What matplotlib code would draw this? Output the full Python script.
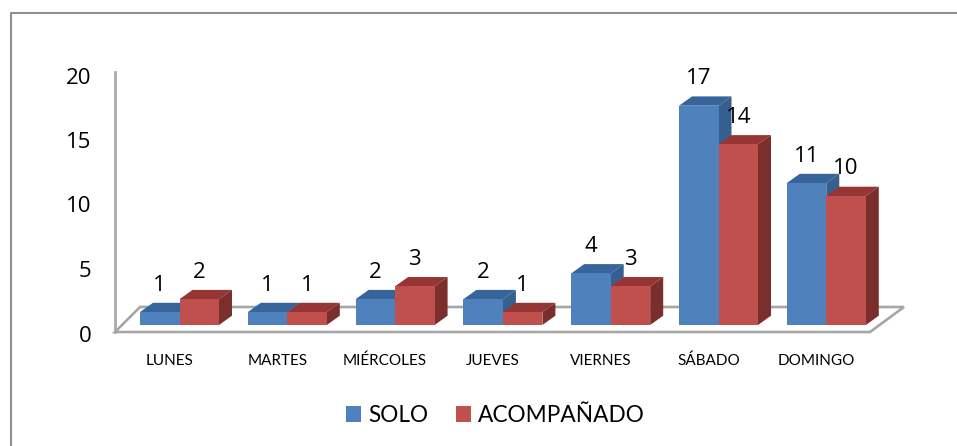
import matplotlib
matplotlib.use("Agg")
import matplotlib.pyplot as plt
from matplotlib.patches import Patch, Polygon
from matplotlib.lines import Line2D
from matplotlib.transforms import ScaledTranslation

days = ["LUNES", "MARTES", "MIÉRCOLES", "JUEVES", "VIERNES", "SÁBADO", "DOMINGO"]
solo = [1, 1, 2, 2, 4, 17, 11]
acompanado = [2, 1, 3, 1, 3, 14, 10]
series_names = ["SOLO", "ACOMPAÑADO"]
yticks = [0, 5, 10, 15, 20]

W, H = 957, 446
DPI = 100
plt.rcParams["font.family"] = ["Lato", "DejaVu Sans"]
NUM_FONT = "Open Sans"

fig = plt.figure(figsize=(W / DPI, H / DPI), dpi=DPI, facecolor="white")

# Plot-area geometry in pixels
px_left, px_right, px_top, px_bottom = 115, 870, 60, 332
wall_top = 72
ax = fig.add_axes([px_left / W, 1 - px_bottom / H,
                   (px_right - px_left) / W, (px_bottom - px_top) / H])
PX_PER_X = 107.8
PX_PER_Y = 12.9
ZERO_PX = 325
FIRST_CAT_PX = 179.5
ax.patch.set_alpha(0)
for s in ax.spines.values():
    s.set_visible(False)

# Axis ticks: labels sit on the floor's front edge, offset from the bars' base
ax.set_yticks(yticks)
ax.set_xticks(range(len(days)))
ax.set_xticklabels(days)
ax.set_xlim((px_left - FIRST_CAT_PX) / PX_PER_X, (px_right - FIRST_CAT_PX) / PX_PER_X)
ax.set_ylim((ZERO_PX - px_bottom) / PX_PER_Y, (ZERO_PX - px_top) / PX_PER_Y)
ax.tick_params(axis="y", length=0, pad=17, labelsize=16, labelcolor="black")
ax.tick_params(axis="x", length=0, pad=15.5, labelsize=11, labelcolor="black")
shift_y = ScaledTranslation(0, -8.5 / DPI, fig.dpi_scale_trans)
shift_x = ScaledTranslation(-10 / DPI, 0, fig.dpi_scale_trans)
for lab in ax.get_yticklabels():
    lab.set_transform(lab.get_transform() + shift_y)
    lab.set_fontfamily(NUM_FONT)
for lab in ax.get_xticklabels():
    lab.set_transform(lab.get_transform() + shift_x)

bar_w = 39.5 / PX_PER_X
dx = 13 / PX_PER_X
dy = 9.3 / PX_PER_Y

GREY = "#a6a6a6"
# Wall and floor outline of the 3-D box
x0, x1 = ax.get_xlim()
y0 = ax.get_ylim()[0]
y1 = (ZERO_PX - wall_top) / PX_PER_Y
back_y = y0 + 25 / PX_PER_Y
floor = [(x0, y0), (x1, y0), (x1 + 34 / PX_PER_X, back_y), (x0 + 25 / PX_PER_X, back_y)]
ax.add_patch(Polygon(floor, closed=True, fill=False, edgecolor=GREY, lw=1.9,
                     clip_on=False, zorder=1))
ax.add_line(Line2D([x0, x0], [y0, y1], color=GREY, lw=1.9, clip_on=False, zorder=1))


def bar3d(x, v, front, top, side, z):
    ax.bar(x, v, width=bar_w, align="edge", color=front, linewidth=0, zorder=z + 0.2)
    ax.add_patch(Polygon([(x, v), (x + bar_w, v), (x + bar_w + dx, v + dy), (x + dx, v + dy)],
                         closed=True, fc=top, ec="none", zorder=z, clip_on=False))
    ax.add_patch(Polygon([(x + bar_w, 0), (x + bar_w + dx, dy), (x + bar_w + dx, v + dy), (x + bar_w, v)],
                         closed=True, fc=side, ec="none", zorder=z, clip_on=False))


for i, (a, b) in enumerate(zip(solo, acompanado)):
    bar3d(i - bar_w, a, "#4f81bd", "#37659b", "#345f8f", 2 + i)
    bar3d(i, b, "#c0504d", "#963634", "#7b2f2d", 2.5 + i)
    for x, v in ((i - bar_w / 2, a), (i + bar_w / 2, b)):
        ax.annotate(str(v), (x, v), xytext=(0, 27 * 72 / DPI), textcoords="offset points",
                    ha="center", va="center", fontsize=16, color="black", zorder=50,
                    annotation_clip=False, family=NUM_FONT)

handles = [Patch(fc="#4f81bd", ec="none"), Patch(fc="#c0504d", ec="none")]
fig.legend(handles, series_names, loc="center", bbox_to_anchor=(495.5 / W, 1 - 415.5 / H),
           ncol=2, frameon=False, fontsize=16.3, handlelength=0.68, handleheight=0.68,
           handletextpad=0.31, columnspacing=1.2, borderpad=0, borderaxespad=0)

# Chart-area border
fig.add_artist(Line2D([11 / W, 11 / W, W / W], [0, 1 - 13 / H, 1 - 13 / H],
                      color="#8f8f8f", lw=1.5))

fig.savefig("out.png", dpi=DPI)
